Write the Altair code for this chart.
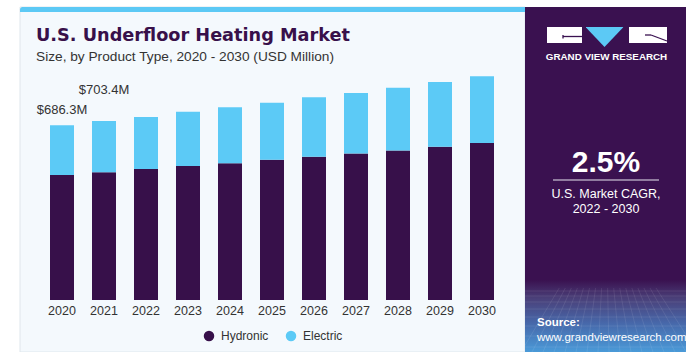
import altair as alt
import pandas as pd
import urllib.parse

# ---- data ----
years = [str(y) for y in range(2020, 2031)]
hydronic = [491.0, 502.0, 515.0, 527.0, 537.0, 551.0, 563.0, 576.0, 587.0, 602.0, 617.0]
electric = [195.3, 201.4, 204.2, 213.0, 220.3, 224.4, 233.6, 237.5, 247.3, 254.7, 262.1]
series = ["Hydronic", "Electric"]
colors = ["#37104a", "#5ccaf6"]
label_years = ["2020", "2021"]
label_texts = ["$686.3M", "$703.4M"]

rows = []
for i, y in enumerate(years):
    rows.append({"year": y, "series": "Hydronic", "value": hydronic[i], "ord": 0})
    rows.append({"year": y, "series": "Electric", "value": electric[i], "ord": 1})
df = pd.DataFrame(rows)

totals = {y: hydronic[i] + electric[i] for i, y in enumerate(years)}
lab_df = pd.DataFrame({"year": label_years, "text": label_texts,
                       "total": [totals[y] for y in label_years]})
year_df = pd.DataFrame({"year": years})

FONT = "Liberation Sans"
DARK = "#3a1150"

xs = alt.Scale(domain=years, range=[41, 503], paddingInner=0.4286, paddingOuter=0.2143)
ys = alt.Scale(domain=[0, 1000], range=[300, 45.5], nice=False, zero=True)


def one():
    return alt.Chart(alt.Data(values=[{"a": 1}]))


def box(x, x2, y, y2, **kw):
    return one().mark_rect(**kw).encode(
        x=alt.value(x), x2=alt.value(x2), y=alt.value(y), y2=alt.value(y2))


def line(x, x2, y, y2, **kw):
    return one().mark_rule(**kw).encode(
        x=alt.value(x), x2=alt.value(x2), y=alt.value(y), y2=alt.value(y2))


def txt(s, x, y, font=FONT, **kw):
    return one().mark_text(text=s, font=font, **kw).encode(x=alt.value(x), y=alt.value(y))


layers = []
# main panel background and top bar
layers.append(box(20, 525, 7, 352, fill="#f4f9fd", stroke="#dfe6ec", strokeWidth=1))
layers.append(box(20, 525, 7, 12, fill="#5cc9f5", cornerRadiusTopLeft=4))

# right panel
layers.append(box(525, 686, 7, 352, fill=DARK))
layers.append(one().mark_rect(
    fill=alt.Gradient(gradient="linear", x1=0, x2=0, y1=0, y2=1,
                      stops=[alt.GradientStop(offset=0, color=DARK),
                             alt.GradientStop(offset=0.25, color="#4a3f78"),
                             alt.GradientStop(offset=0.6, color="#4768aa"),
                             alt.GradientStop(offset=1, color="#4a9ad8")])
).encode(x=alt.value(525), x2=alt.value(686), y=alt.value(280), y2=alt.value(352)))

# faint mesh in the lower right panel
for gy in [291, 296, 302, 309, 317, 326, 336, 347]:
    layers.append(line(525, 686, gy, gy, color="white", opacity=0.11, strokeWidth=0.8))
for xb in range(521, 700, 11):
    xt = 606 + (xb - 606) * 0.55
    layers.append(line(xt, xb, 288, 352, color="white", opacity=0.11, strokeWidth=0.8))

# bars
bars = alt.Chart(df).mark_bar().encode(
    x=alt.X("year:O", scale=xs, axis=None),
    y=alt.Y("value:Q", scale=ys, axis=None, stack="zero"),
    color=alt.Color("series:N",
                    scale=alt.Scale(domain=series, range=colors),
                    legend=alt.Legend(orient="none", legendX=203, legendY=330,
                                      direction="horizontal", title=None,
                                      symbolType="circle", symbolSize=110,
                                      symbolStrokeWidth=0, symbolOpacity=1,
                                      labelFont=FONT, labelFontSize=12,
                                      labelColor="#333333", labelOffset=6,
                                      columnPadding=16)),
    order=alt.Order("ord:Q"),
)
layers.append(bars)

# year labels
layers.append(alt.Chart(year_df).mark_text(font=FONT, fontSize=12.5, color="#333333").encode(
    x=alt.X("year:O", scale=xs, axis=None), y=alt.value(310.5), text="year:N"))

# value labels
for yr, dy in [("2020", -15), ("2021", -31)]:
    layers.append(alt.Chart(lab_df).transform_filter(alt.datum.year == yr).mark_text(
        font=FONT, fontSize=13, color="#333333", dy=dy, baseline="middle").encode(
        x=alt.X("year:O", scale=xs, axis=None),
        y=alt.Y("total:Q", scale=ys, axis=None),
        text="text:N"))

# title
layers.append(txt("U.S. Underfloor Heating Market", 36, 36, font="DejaVu Sans", fontSize=17.7,
                  fontWeight="bold", color="#38104a", align="left", baseline="middle"))
layers.append(txt("Size, by Product Type, 2020 - 2030 (USD Million)", 36, 57, fontSize=13.7,
                  color="#333333", align="left", baseline="middle"))

# logo
tri_svg = ('<svg xmlns="http://www.w3.org/2000/svg" width="38" height="20" viewBox="0 0 38 20">'
           '<path d="M0,0L38,0L19,20Z" fill="#5cc9f5"/></svg>')
tri_url = "data:image/svg+xml;charset=utf-8," + urllib.parse.quote(tri_svg)
layers.append(box(547, 582, 27, 43, fill="white"))
layers.append(line(563, 582, 36.5, 36.5, color=DARK, strokeWidth=1.3))
layers.append(line(563, 563, 35, 38.5, color=DARK, strokeWidth=1.3))
layers.append(one().mark_image(url=tri_url, width=38, height=20, align="left",
                               baseline="top", aspect=False).encode(
    x=alt.value(585.5), y=alt.value(27)))
layers.append(box(629, 667, 27, 43, fill="white"))
layers.append(line(651, 667, 35, 41, color=DARK, strokeWidth=1.3))
layers.append(line(645, 651, 35, 35, color=DARK, strokeWidth=1.3))
layers.append(txt("GRAND VIEW RESEARCH", 606.5, 56.5, fontSize=9.8, fontWeight="bold",
                  color="white", align="center", baseline="middle"))

# CAGR block
layers.append(txt("2.5%", 606, 163, fontSize=30, fontWeight="bold", color="white",
                  align="center", baseline="middle"))
layers.append(line(553, 659, 180, 180, color="#e8e8f0", strokeWidth=1))
layers.append(txt("U.S. Market CAGR,", 606, 193.5, fontSize=12.5, color="white",
                  align="center", baseline="middle"))
layers.append(txt("2022 - 2030", 606, 208.5, fontSize=12.5, color="white",
                  align="center", baseline="middle"))

# source
layers.append(txt("Source:", 537, 323, fontSize=11.5, fontWeight="bold", color="white",
                  align="left", baseline="middle"))
layers.append(txt("www.grandviewresearch.com", 537, 338, fontSize=11.5, color="white",
                  align="left", baseline="middle"))

chart = alt.layer(*layers).properties(
    width=688, height=352,
    autosize=alt.AutoSizeParams(type="none"),
    padding=0,
    background="white",
).configure_view(stroke=None)

chart.save("out.html", embed_options={"renderer": "svg", "actions": False})
